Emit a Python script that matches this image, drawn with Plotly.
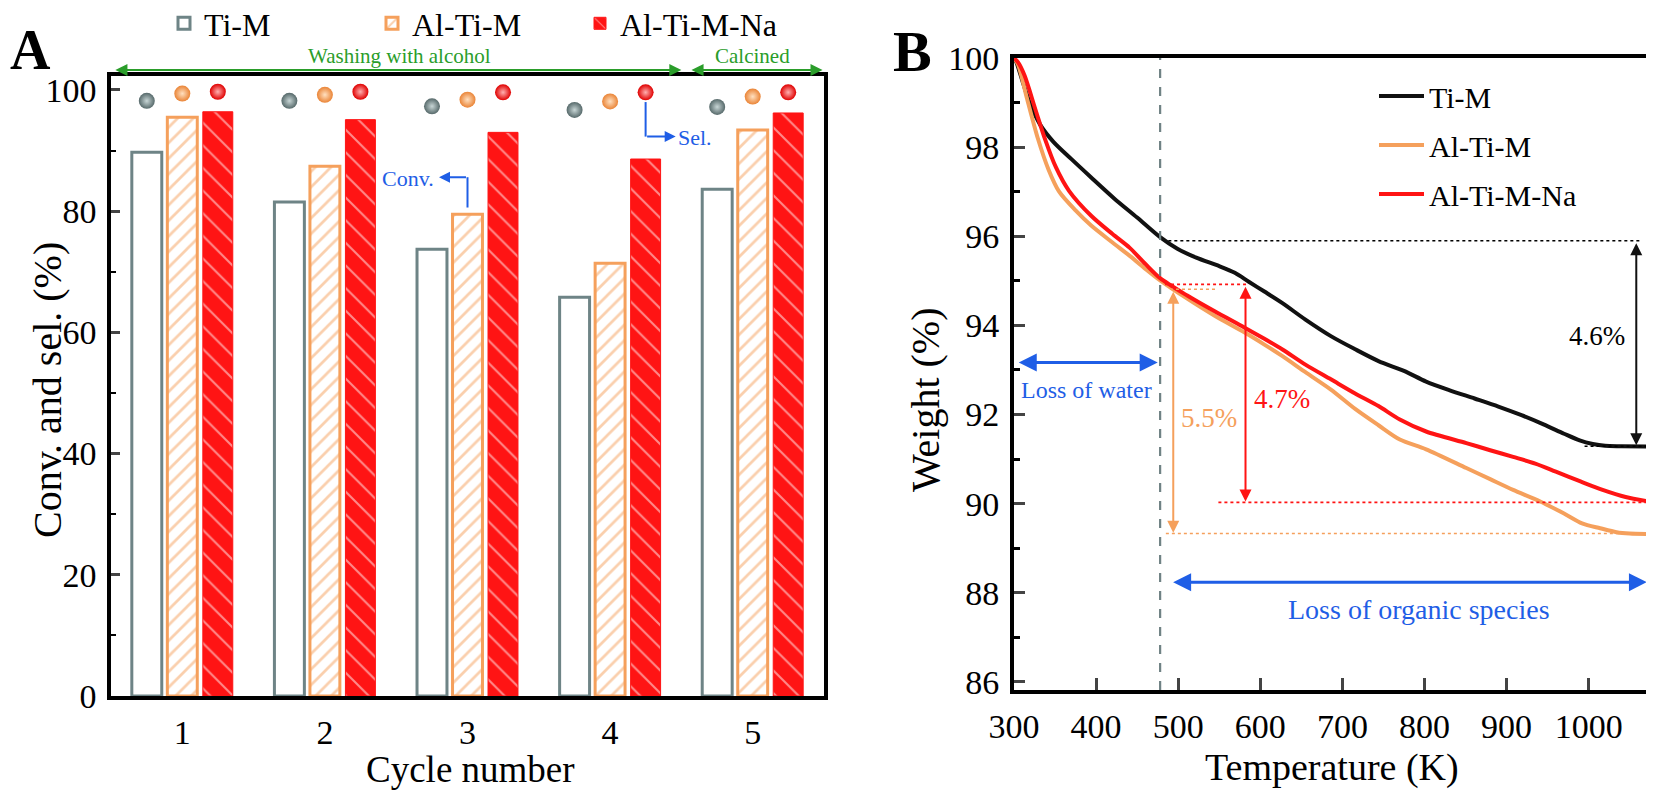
import plotly.graph_objects as go

# ---------------- data: panel A ----------------
cycles = [1, 2, 3, 4, 5]
series_names = ["Ti-M", "Al-Ti-M", "Al-Ti-M-Na"]
conv_ti_m = [89.7, 81.5, 73.7, 65.8, 83.6]
conv_al_ti_m = [95.5, 87.4, 79.5, 71.4, 93.4]
conv_al_ti_m_na = [96.4, 95.1, 93.0, 88.6, 96.2]
sel_ti_m = [98.2, 98.2, 97.3, 96.7, 97.2]
sel_al_ti_m = [99.4, 99.2, 98.4, 98.1, 98.9]
sel_al_ti_m_na = [99.7, 99.7, 99.6, 99.6, 99.6]

# ---------------- data: panel B ----------------
temp_ti_m = [300, 303, 310, 319, 332, 348, 370, 394, 422, 450, 478, 499, 522, 550, 569, 586,
             605, 627, 655, 686, 715, 744, 775, 802, 830, 861, 890, 919, 945, 970, 989, 1005,
             1020, 1040, 1073]
w_ti_m = [100.0, 99.9, 99.5, 99.0, 98.5, 98.12, 97.73, 97.32, 96.85, 96.42, 95.98, 95.72, 95.52,
          95.33, 95.18, 94.98, 94.76, 94.5, 94.13, 93.76, 93.47, 93.2, 92.98, 92.74, 92.55, 92.36,
          92.18, 91.98, 91.78, 91.57, 91.42, 91.34, 91.3, 91.29, 91.28]

temp_al_ti_m = [300, 305, 316, 329, 342, 355, 375, 394, 420, 441, 460, 478, 511, 545, 581, 605,
                627, 655, 686, 716, 744, 770, 802, 851, 880, 908, 941, 970, 992, 1014, 1034, 1050,
                1073]
w_al_ti_m = [100.0, 99.85, 99.08, 98.2, 97.5, 97.0, 96.58, 96.24, 95.86, 95.56, 95.27, 95.01,
             94.6, 94.21, 93.84, 93.57, 93.31, 92.95, 92.56, 92.12, 91.76, 91.44, 91.22, 90.8,
             90.55, 90.31, 90.05, 89.78, 89.56, 89.45, 89.36, 89.33, 89.32]

temp_al_ti_m_na = [300, 305, 313, 326, 338, 351, 367, 394, 420, 441, 460, 478, 511, 545, 581, 605,
                   627, 655, 686, 715, 744, 770, 802, 851, 880, 908, 935, 960, 990, 1017, 1045, 1073]
w_al_ti_m_na = [100.0, 99.9, 99.6, 98.85, 98.17, 97.55, 97.02, 96.46, 96.05, 95.74, 95.38, 95.06,
                94.67, 94.31, 93.95, 93.7, 93.46, 93.12, 92.79, 92.48, 92.19, 91.89, 91.62, 91.36,
                91.2, 91.05, 90.9, 90.72, 90.5, 90.31, 90.15, 90.05]

# ---------------- styling ----------------
W, H = 1654, 794
OFF = 8  # page body margin offset
FONT = "Liberation Serif"
GRAY = "#6e8486"
ORANGE = "#f5a05c"
RED = "#ff1414"
BLUE = "#1f5ee6"
GREEN = "#2a9d2a"


def px(x):
    return (x - OFF) / W


def py(y):
    return 1 - (y - OFF) / H


slot = 0.249
bar_w = 0.21
offsets = [-slot, 0.0, slot]

fig = go.Figure()

# bars (conversion)
fig.add_trace(go.Bar(
    x=[c + offsets[0] for c in cycles], y=conv_ti_m, width=bar_w, name=series_names[0],
    marker=dict(color="white", line=dict(color=GRAY, width=3)),
    xaxis="x", yaxis="y", legend="legend"))
fig.add_trace(go.Bar(
    x=[c + offsets[1] for c in cycles], y=conv_al_ti_m, width=bar_w, name=series_names[1],
    marker=dict(color="white", line=dict(color=ORANGE, width=3),
                pattern=dict(shape="/", fgcolor=ORANGE, bgcolor="white", size=11, solidity=0.25)),
    xaxis="x", yaxis="y", legend="legend"))
fig.add_trace(go.Bar(
    x=[c + offsets[2] for c in cycles], y=conv_al_ti_m_na, width=bar_w, name=series_names[2],
    marker=dict(color=RED, line=dict(color=RED, width=1),
                pattern=dict(shape="\\", fgcolor="white", bgcolor=RED, size=16, solidity=0.13)),
    xaxis="x", yaxis="y", legend="legend"))

# spheres (selectivity)
sphere_styles = [("#56696a", "#c8d6d6"), ("#ea8436", "#ffe0c0"), ("#e00000", "#ffb0b0")]
for k, sel in enumerate([sel_ti_m, sel_al_ti_m, sel_al_ti_m_na]):
    edge, centre = sphere_styles[k]
    fig.add_trace(go.Scatter(
        x=[c + offsets[k] for c in cycles], y=sel, mode="markers", showlegend=False,
        marker=dict(size=16, color=edge, line=dict(width=0),
                    gradient=dict(type="radial", color=centre)),
        xaxis="x", yaxis="y"))

# TGA curves
for name, t, w, col in [(series_names[0], temp_ti_m, w_ti_m, "#111111"),
                        (series_names[1], temp_al_ti_m, w_al_ti_m, ORANGE),
                        (series_names[2], temp_al_ti_m_na, w_al_ti_m_na, RED)]:
    fig.add_trace(go.Scatter(
        x=t, y=w, mode="lines", name=name, legend="legend2", legendgroup=name,
        line=dict(color=col, width=4, shape="spline", smoothing=0.8),
        xaxis="x2", yaxis="y2"))

axis_common = dict(showline=True, linecolor="black", mirror=True, showgrid=False,
                   zeroline=False, automargin=False,
                   tickfont=dict(family=FONT, size=34, color="black"))

fig.update_layout(
    width=W, height=H,
    margin=dict(l=0, r=0, t=0, b=0, pad=0, autoexpand=False),
    paper_bgcolor="white", plot_bgcolor="white",
    barmode="overlay", font=dict(family=FONT, color="black"),
    xaxis=dict(domain=[px(111), px(824)], range=[0.5, 5.5], tickvals=cycles, ticks="",
               linewidth=3.5, ticklabelstandoff=3, anchor="y", **axis_common),
    yaxis=dict(domain=[py(696), py(76)], range=[0, 102.3], dtick=20, tick0=0,
               ticks="inside", ticklen=9, tickwidth=3, linewidth=3.5, ticklabelstandoff=4,
               minor=dict(dtick=10, ticks="inside", ticklen=5, tickwidth=2, tickcolor="black"),
               anchor="x", **axis_common),
    xaxis2=dict(domain=[px(1014), px(1649)], range=[300, 1073.5], dtick=100, tick0=300,
                ticks="inside", ticklen=12, tickwidth=3, linewidth=4, ticklabelstandoff=3,
                anchor="y2", **axis_common),
    yaxis2=dict(domain=[py(690), py(58)], range=[85.82, 100], dtick=2, tick0=86,
                ticks="inside", ticklen=11, tickwidth=3, linewidth=4, ticklabelstandoff=4,
                minor=dict(dtick=1, ticks="inside", ticklen=6, tickwidth=2.5, tickcolor="black"),
                anchor="x2", **axis_common),
    legend=dict(orientation="h", x=px(164), y=py(-4), xanchor="left", yanchor="top",
                entrywidth=163, entrywidthmode="pixels", bgcolor="rgba(0,0,0,0)",
                font=dict(family=FONT, size=32, color="black")),
    legend2=dict(x=px(1374), y=py(70), xanchor="left", yanchor="top", tracegroupgap=7,
                 itemwidth=45, bgcolor="rgba(0,0,0,0)",
                 font=dict(family=FONT, size=30, color="black")),
)

ann = []
shapes = []


def label(text, x, y, size, color="black", xref="paper", yref="paper", angle=0,
          xanchor="center"):
    return dict(text=text, x=x, y=y, xref=xref, yref=yref, textangle=angle,
                showarrow=False, xanchor=xanchor, yanchor="middle",
                font=dict(family=FONT, size=size, color=color))


# axis titles and panel letters
ann += [
    label("Conv. and sel. (%)", px(48), py(390), 40, angle=-90),
    label("Cycle number", px(470), py(769), 37),
    label("Weight (%)", px(925), py(400), 40, angle=-90),
    label("Temperature (K)", px(1332), py(767), 38),
    label("<b>A</b>", px(30), py(50), 56),
    label("<b>B</b>", px(912), py(52), 58),
]

# green headers of panel A
ann += [
    label("Washing with alcohol", 2.52, py(56), 21, GREEN, xref="x"),
    label("Calcined", 5.0, py(56), 21, GREEN, xref="x"),
    dict(text="", x=4.50, y=py(70), xref="x", yref="paper", ax=0.52, axref="x",
         ay=0, ayref="pixel", showarrow=True, arrowside="end+start", arrowhead=2,
         arrowsize=1.1, arrowwidth=2.2, arrowcolor=GREEN),
    dict(text="", x=5.49, y=py(70), xref="x", yref="paper", ax=4.56, axref="x",
         ay=0, ayref="pixel", showarrow=True, arrowside="end+start", arrowhead=2,
         arrowsize=1.1, arrowwidth=2.2, arrowcolor=GREEN),
]

# blue Conv./Sel. pointers
shapes += [
    dict(type="line", xref="x", yref="y", x0=3.0, x1=3.0, y0=80.6, y1=85.6,
         line=dict(color=BLUE, width=2)),
    dict(type="line", xref="x", yref="y", x0=4 + slot, x1=4 + slot, y0=98.0, y1=92.3,
         line=dict(color=BLUE, width=2)),
]
ann += [
    dict(text="", x=2.80, y=85.6, xref="x", yref="y", ax=3.0, axref="x", ay=85.6, ayref="y",
         showarrow=True, arrowhead=2, arrowsize=1.1, arrowwidth=2, arrowcolor=BLUE),
    label("Conv.", 2.78, 85.4, 22, BLUE, xref="x", yref="y", xanchor="right"),
    dict(text="", x=4.46, y=92.3, xref="x", yref="y", ax=4 + slot, axref="x", ay=92.3,
         ayref="y", showarrow=True, arrowhead=2, arrowsize=1.1, arrowwidth=2, arrowcolor=BLUE),
    label("Sel.", 4.46, 92.2, 22, BLUE, xref="x", yref="y", xanchor="left"),
]

# panel B guides
shapes += [
    dict(type="line", xref="x2", yref="y2", x0=478, x1=478, y0=85.82, y1=100,
         line=dict(color="#6f8284", width=2.2, dash="dash")),
    dict(type="line", xref="x2", yref="y2", x0=488, x1=1062, y0=95.9, y1=95.9,
         line=dict(color="black", width=1.4, dash="dot")),
    dict(type="line", xref="x2", yref="y2", x0=995, x1=1073, y0=91.29, y1=91.29,
         line=dict(color="black", width=1.4, dash="dot")),
    dict(type="line", xref="x2", yref="y2", x0=484, x1=585, y0=94.92, y1=94.92,
         line=dict(color=RED, width=1.6, dash="dot")),
    dict(type="line", xref="x2", yref="y2", x0=549, x1=1073, y0=90.03, y1=90.03,
         line=dict(color=RED, width=1.6, dash="dot")),
    dict(type="line", xref="x2", yref="y2", x0=490, x1=545, y0=94.81, y1=94.81,
         line=dict(color=ORANGE, width=1.6, dash="dot")),
    dict(type="line", xref="x2", yref="y2", x0=485, x1=1073, y0=89.33, y1=89.33,
         line=dict(color=ORANGE, width=1.6, dash="dot")),
]


def double_arrow(x0, y0, x1, y1, color, width):
    return dict(text="", x=x1, y=y1, xref="x2", yref="y2", ax=x0, ay=y0, axref="x2",
                ayref="y2", showarrow=True, arrowside="end+start", arrowhead=2,
                arrowsize=1.2, arrowwidth=width, arrowcolor=color)


ann += [
    double_arrow(1058, 95.88, 1058, 91.31, "#111111", 2),
    double_arrow(582, 94.9, 582, 90.05, RED, 2),
    double_arrow(494, 94.79, 494, 89.35, ORANGE, 2),
    double_arrow(304, 93.17, 475, 93.17, BLUE, 3),
    double_arrow(492, 88.24, 1071, 88.24, BLUE, 3),
    label("4.6%", 1010, 93.76, 27, "black", xref="x2", yref="y2"),
    label("4.7%", 627, 92.34, 27, RED, xref="x2", yref="y2"),
    label("5.5%", 537, 91.92, 27, ORANGE, xref="x2", yref="y2"),
    label("Loss of water", 388, 92.56, 24, BLUE, xref="x2", yref="y2"),
    label("Loss of organic species", 793, 87.62, 28, BLUE, xref="x2", yref="y2"),
]

fig.update_layout(annotations=ann, shapes=shapes)
fig.write_html("out.html")
